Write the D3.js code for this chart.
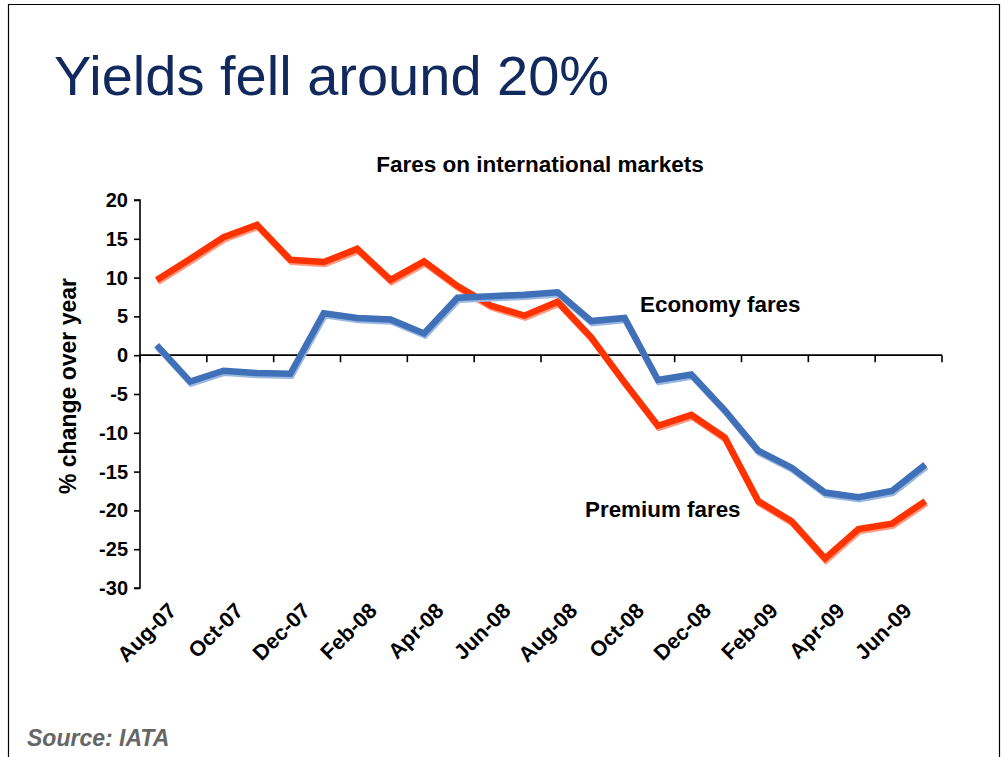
<!DOCTYPE html>
<html>
<head>
<meta charset="utf-8">
<script src="https://cdn.jsdelivr.net/npm/d3@7"></script>
<style>
  body { margin: 0; background: #fff; }
  svg { display: block; font-family: Arial, "Liberation Sans", sans-serif; }
  .tick text { font-weight: bold; fill: #000; }
</style>
</head>
<body>
<svg id="chart" width="1004" height="757"></svg>
<script>
// months Aug-07 .. Jul-09
const months = ['Aug-07','Sep-07','Oct-07','Nov-07','Dec-07','Jan-08','Feb-08','Mar-08',
  'Apr-08','May-08','Jun-08','Jul-08','Aug-08','Sep-08','Oct-08','Nov-08',
  'Dec-08','Jan-09','Feb-09','Mar-09','Apr-09','May-09','Jun-09','Jul-09'];
const premium = [9.7, 12.4, 15.2, 16.8, 12.3, 12.0, 13.7, 9.7, 12.1, 8.9, 6.4, 5.1,
  6.9, 2.3, -3.5, -9.1, -7.7, -10.6, -18.8, -21.4, -26.2, -22.4, -21.7, -18.8];
const economy = [1.3, -3.4, -2.0, -2.3, -2.4, 5.4, 4.8, 4.6, 2.8, 7.4, 7.6, 7.8,
  8.1, 4.4, 4.8, -3.2, -2.5, -7.1, -12.3, -14.5, -17.7, -18.3, -17.5, -14.1];
const yTicks = [20, 15, 10, 5, 0, -5, -10, -15, -20, -25, -30];

const svg = d3.select('#chart');

// slide frame
svg.append('path')
  .attr('d', 'M8.5,757 V4.5 H999.5 V757')
  .attr('fill', 'none').attr('stroke', '#000').attr('stroke-width', 1.2);

svg.append('text')
  .attr('x', 54).attr('y', 95)
  .attr('font-size', 56).attr('fill', '#11295c')
  .text('Yields fell around 20%');

const plotL = 140, plotR = 942, plotT = 200, plotB = 588;

const x = d3.scaleBand().domain(months).range([plotL, plotR]);
const y = d3.scaleLinear().domain([-30, 20]).range([plotB, plotT]);

// y axis
const yAxis = svg.append('g')
  .attr('transform', `translate(${plotL},0)`)
  .call(d3.axisLeft(y).tickValues(yTicks).tickSize(6).tickPadding(6).tickFormat(d => String(d)));
yAxis.selectAll('text').attr('font-size', 20).attr('font-family', 'Arial, "Liberation Sans", sans-serif');
yAxis.selectAll('line, path').attr('stroke', '#000').attr('stroke-width', 1.6);
yAxis.select('.domain').attr('d', `M-6,${plotT}H0V${plotB}H-6`);

// zero line with ticks every two months
const y0 = y(0);
svg.append('line')
  .attr('x1', plotL).attr('x2', plotR).attr('y1', y0).attr('y2', y0)
  .attr('stroke', '#000').attr('stroke-width', 1.8);
const tickIdx = d3.range(0, months.length + 1, 2);
svg.append('g').selectAll('line').data(tickIdx).join('line')
  .attr('x1', d => plotL + d * x.step()).attr('x2', d => plotL + d * x.step())
  .attr('y1', y0).attr('y2', y0 + 7)
  .attr('stroke', '#000').attr('stroke-width', 1.6);

// category labels below plot
const labelMonths = months.filter((m, i) => i % 2 === 0);
svg.append('g').selectAll('text').data(labelMonths).join('text')
  .attr('transform', d => `translate(${x(d) + x.bandwidth() / 2 + 21},612) rotate(-45)`)
  .attr('text-anchor', 'end')
  .attr('font-size', 21.5).attr('font-weight', 'bold')
  .text(d => d);

// lines
const line = d3.line()
  .x((d, i) => x(months[i]) + x.bandwidth() / 2)
  .y(d => y(d));

function drawSeries(values, main, shade) {
  svg.append('path').datum(values)
    .attr('d', line).attr('fill', 'none')
    .attr('stroke', shade).attr('stroke-width', 6.5)
    .attr('stroke-linejoin', 'miter')
    .attr('transform', 'translate(1,2)');
  svg.append('path').datum(values)
    .attr('d', line).attr('fill', 'none')
    .attr('stroke', main).attr('stroke-width', 6.5)
    .attr('stroke-linejoin', 'miter');
}
drawSeries(premium, '#ff3300', '#ff9a80');
drawSeries(economy, '#4070b8', '#9ab8e0');

// titles and annotations
svg.append('text')
  .attr('x', 540).attr('y', 172).attr('text-anchor', 'middle')
  .attr('font-size', 22.5).attr('font-weight', 'bold')
  .text('Fares on international markets');

svg.append('text')
  .attr('transform', 'translate(76,386) rotate(-90)')
  .attr('text-anchor', 'middle')
  .attr('font-size', 23).attr('font-weight', 'bold')
  .text('% change over year');

svg.append('text')
  .attr('x', 640).attr('y', 312)
  .attr('font-size', 22.4).attr('font-weight', 'bold')
  .text('Economy fares');

svg.append('text')
  .attr('x', 585).attr('y', 517)
  .attr('font-size', 22.4).attr('font-weight', 'bold')
  .text('Premium fares');

svg.append('text')
  .attr('x', 27).attr('y', 746)
  .attr('font-size', 23).attr('font-weight', 'bold').attr('font-style', 'italic')
  .attr('fill', '#666')
  .text('Source: IATA');
</script>
</body>
</html>
